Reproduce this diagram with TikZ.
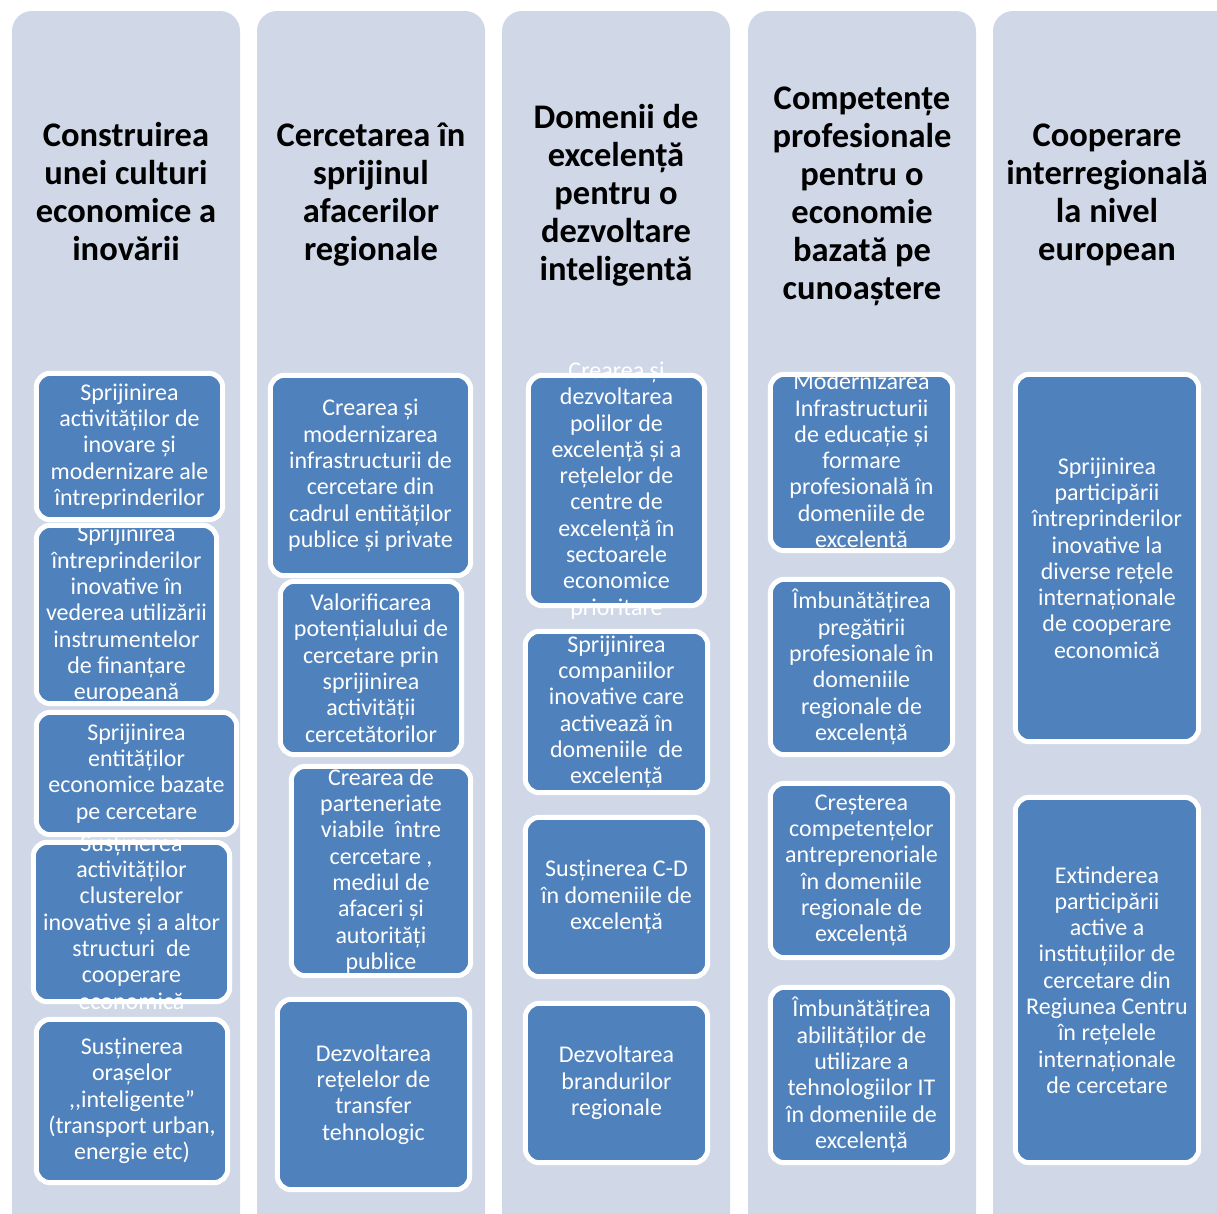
\documentclass[tikz,border=0pt]{standalone}
\usepackage{fontspec}
\setmainfont{Carlito}
\definecolor{colbg}{RGB}{208,216,232}
\definecolor{boxblue}{RGB}{79,129,189}
\tikzset{
  colbox/.style={fill=colbg, rounded corners=20pt},
  head/.style={align=center, font=\bfseries\fontsize{34.5}{38}\selectfont, text=black, inner sep=0pt},
  pbox/.style={fill=boxblue, rounded corners=14pt, inner sep=0pt},
  pborder/.style={draw=white, line width=5pt, rounded corners=14pt},
  boxtext/.style={align=center, text=white, font=\fontsize{24}{26.3}\selectfont, inner sep=0pt},
}
\newcommand{\pb}[6]{% name, x1,y1,x2,y2, text
  \node[pbox, minimum width={(#4)-(#2)-5}, minimum height={(#5)-(#3)-5},
        label={[boxtext]center:{#6}}] (#1) at ({((#2)+(#4))/2},{((#3)+(#5))/2}) {};
  \draw[pborder] (#1.south west) rectangle (#1.north east);}
\begin{document}
\begin{tikzpicture}[x=1pt,y=-1pt]
\useasboundingbox (0,0) rectangle (1217,1213);
\fill[white] (0,0) rectangle (1217,1213);
\begin{scope}
\clip (0,0) rectangle (1217,1213);
\fill[colbox] (12,11) rectangle (240,1250);
\fill[colbox] (257,11) rectangle (485,1250);
\fill[colbox] (502,11) rectangle (730,1250);
\fill[colbox] (748,11) rectangle (976,1250);
\fill[colbox] (993,11) rectangle (1240,1250);

\node[head] (h1) at (126,192) {Construirea\\unei culturi\\economice a\\inovării};
\node[head] (h2) at (371,195) {Cercetarea în\\sprijinul\\afacerilor\\regionale};
\node[head] (h3) at (616,195) {Domenii de\\excelență\\pentru o\\dezvoltare\\inteligentă};
\node[head] (h4) at (862,196) {Competențe\\profesionale\\pentru o\\economie\\bazată pe\\cunoaștere};
\node[head] (h5) at (1107,195) {Cooperare\\interregională\\la nivel\\european};

% column 1
\pb{b11}{34}{371}{225}{522}{Sprijinirea\\activităților de\\inovare și\\modernizare ale\\întreprinderilor}
\pb{b12}{34}{523}{219}{706}{Sprijinirea\\întreprinderilor\\inovative în\\vederea utilizării\\instrumentelor\\de finanțare\\europeană}
\pb{b13}{34}{710}{239}{837}{Sprijinirea\\entităților\\economice bazate\\pe cercetare}
\pb{b14}{31}{840}{232}{1004}{Susținerea\\activităților\\clusterelor\\inovative și a altor\\structuri\ \ de\\cooperare\\economică}
\pb{b15}{34}{1017}{230}{1185}{Susținerea\\orașelor\\{,}{,}inteligente”\\(transport urban,\\energie etc)}

% column 2
\pb{b21}{268}{373}{473}{578}{Crearea și\\modernizarea\\infrastructurii de\\cercetare din\\cadrul entităților\\publice și private}
\pb{b22}{278}{579}{464}{757}{Valorificarea\\potențialului de\\cercetare prin\\sprijinirea\\activității\\cercetătorilor}
\pb{b23}{289}{764}{473}{978}{Crearea de\\parteneriate\\viabile\ \ între\\cercetare ,\\mediul de\\afaceri și\\autorități\\publice}
\pb{b24}{275}{997}{472}{1192}{Dezvoltarea\\rețelelor de\\transfer\\tehnologic}

% column 3
\pb{b31}{526}{373}{707}{608}{Crearea și\\dezvoltarea\\polilor de\\excelență și a\\rețelelor de\\centre de\\excelență în\\sectoarele\\economice\\prioritare}
\pb{b32}{523}{629}{710}{795}{Sprijinirea\\companiilor\\inovative care\\activează în\\domeniile\ \ de\\excelență}
\pb{b33}{523}{815}{710}{979}{Susținerea C-D\\în domeniile de\\excelență}
\pb{b34}{523}{1001}{710}{1165}{Dezvoltarea\\brandurilor\\regionale}

% column 4
\pb{b41}{768}{372}{955}{553}{Modernizarea\\Infrastructurii\\de educație și\\formare\\profesională în\\domeniile de\\excelență}
\pb{b42}{768}{577}{955}{757}{Îmbunătățirea\\pregătirii\\profesionale în\\domeniile\\regionale de\\excelență}
\pb{b43}{768}{781}{955}{960}{Creșterea\\competențelor\\antreprenoriale\\în domeniile\\regionale de\\excelență}
\pb{b44}{768}{985}{955}{1165}{Îmbunătățirea\\abilităților de\\utilizare a\\tehnologiilor IT\\în domeniile de\\excelență}

% column 5
\pb{b51}{1013}{372}{1201}{744}{Sprijinirea\\participării\\întreprinderilor\\inovative la\\diverse rețele\\internaționale\\de cooperare\\economică}
\pb{b52}{1013}{795}{1201}{1165}{Extinderea\\participării\\active a\\instituțiilor de\\cercetare din\\Regiunea Centru\\în rețelele\\internaționale\\de cercetare}
\end{scope}
\end{tikzpicture}
\end{document}
